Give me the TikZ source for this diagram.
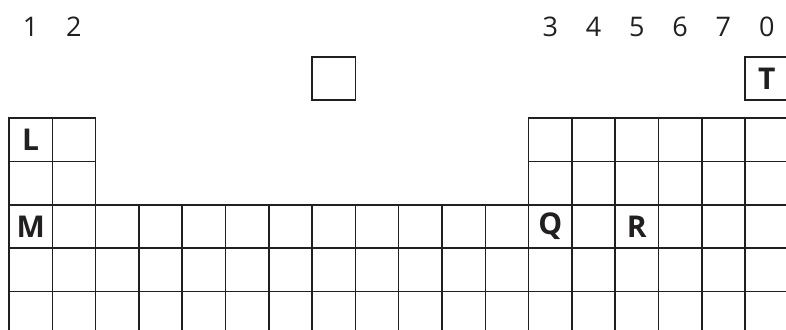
\documentclass[tikz,border=0pt]{standalone}
\usepackage{fontspec}
\setmainfont{Open Sans}
\usepackage{xcolor}
\usepackage{tikz}
\usetikzlibrary{positioning}
\definecolor{ink}{HTML}{231F20}

\begin{document}
\begin{tikzpicture}[
  x=1pt, y=-1pt, font=\fontsize{27}{30}\selectfont,
  cell/.style={draw=ink,line width=1.5pt,minimum width=43.3pt,minimum height=43.4pt,inner sep=0pt,
    text=ink,font=\fontsize{30}{32}\selectfont\bfseries},
  grp/.style={text=ink,inner sep=0pt}
]
\useasboundingbox (0,0) rectangle (786,329);
% group numbers
\foreach \g/\c in {1/1,2/2,3/13,4/14,5/15,6/16,7/17,0/18}
  \node[grp] (g\g) at ({9+(\c-0.5)*43.3},27) {\g};
% top row
\node[cell,minimum height=43pt] (hbox) at ({9+7.5*43.3},78.5) {};
\node[cell,minimum height=43pt] (T) at ({9+17.5*43.3},78.5) {T};
% short periods
\foreach \r in {1,2}
  \foreach \c in {1,2,13,14,15,16,17,18}
    \node[cell] (c\r-\c) at ({9+(\c-0.5)*43.3},{118+(\r-0.5)*43.4}) {};
% long periods
\foreach \r in {3,4,5}
  \foreach \c in {1,...,18}
    \node[cell] (c\r-\c) at ({9+(\c-0.5)*43.3},{118+(\r-0.5)*43.4}) {};
% letters
\node[cell,draw=none] (L) at (c1-1.center) {L};
\node[cell,draw=none] (M) at (c3-1.center) {M};
\node[cell,draw=none] (Q) at (c3-13.center) {Q};
\node[cell,draw=none] (R) at (c3-15.center) {R};
\end{tikzpicture}
\end{document}
